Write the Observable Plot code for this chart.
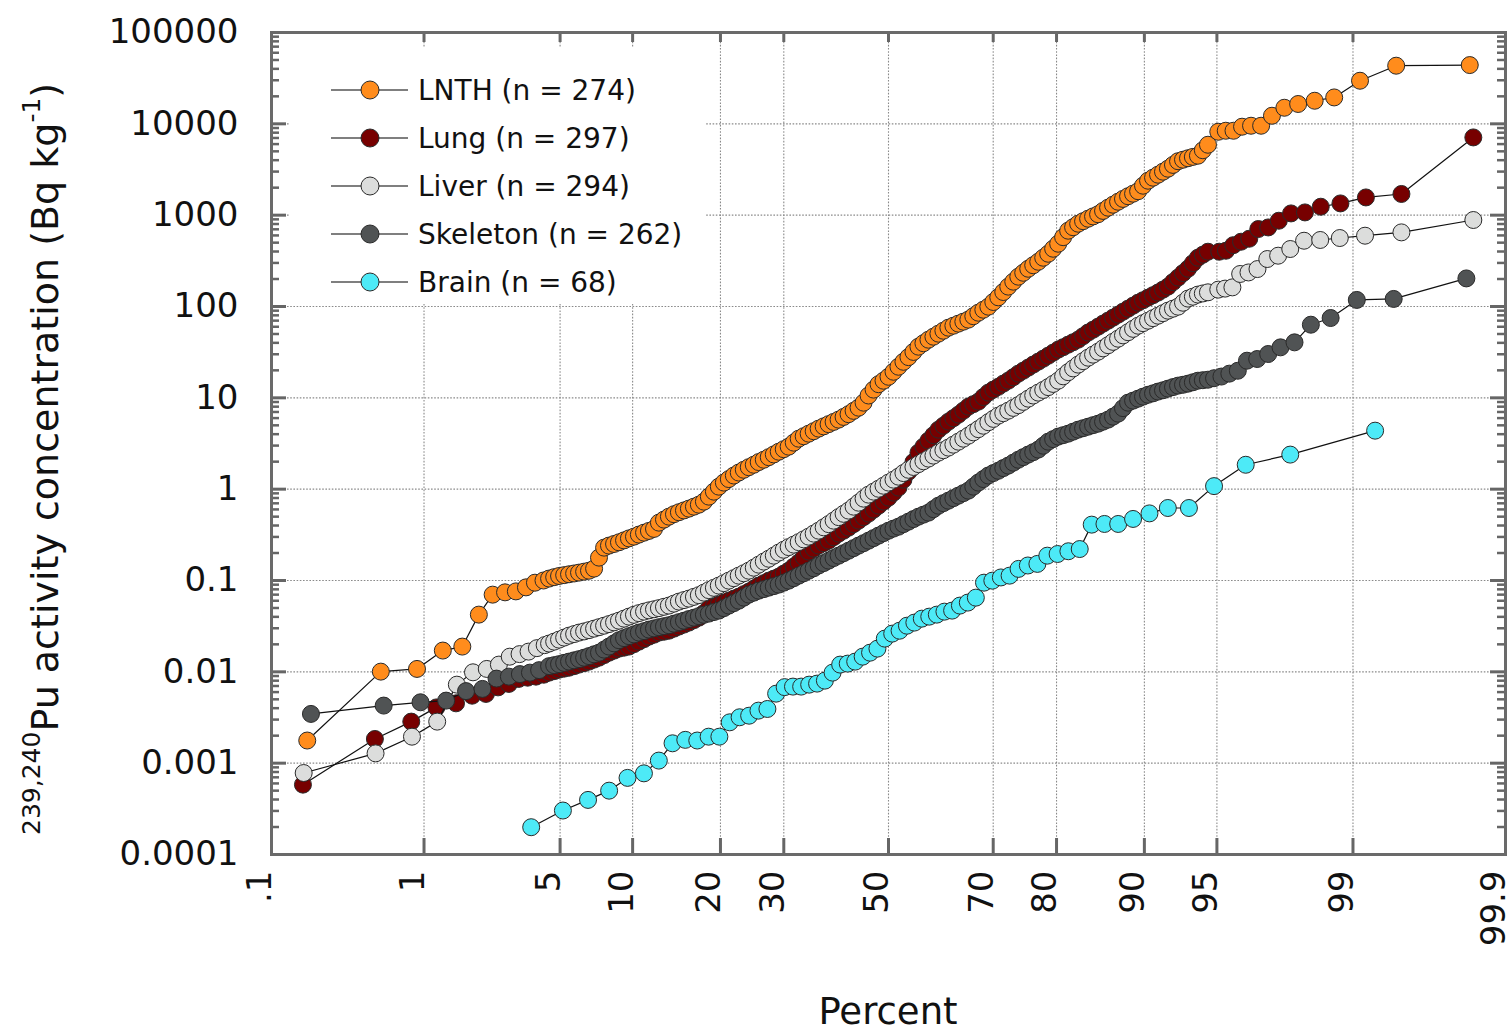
<!DOCTYPE html>
<html><head><meta charset="utf-8">
<script src="https://cdn.jsdelivr.net/npm/d3@7"></script>
<script src="https://cdn.jsdelivr.net/npm/@observablehq/plot@0.6"></script>
<style>body{margin:0;background:#fff;overflow:hidden;}</style>
</head><body><div id="chart"></div>
<script>
// ---------- data (percent, activity concentration in Bq/kg) ----------
const xTickPct = [0.1, 1, 5, 10, 20, 30, 50, 70, 80, 90, 95, 99, 99.9];
const xTickLabels = [".1", "1", "5", "10", "20", "30", "50", "70", "80", "90", "95", "99", "99.9"];
const yTickVals = [1e-4, 1e-3, 1e-2, 1e-1, 1, 10, 100, 1000, 10000, 100000];
const yTickLabels = ["0.0001", "0.001", "0.01", "0.1", "1", "10", "100", "1000", "10000", "100000"];

// percent positions read across the dense central part of the curves
const midPct = [4.457,4.947,5.480,6.057,6.681,7.353,8.076,8.851,9.680,10.56,11.51,12.51,13.57,14.69,15.87,17.11,18.41,19.77,21.19,22.66,24.20,25.78,27.43,29.12,30.85,32.64,34.46,36.32,38.21,40.13,42.07,44.04,46.02,48.01,50,51.99,53.98,55.96,57.93,59.87,61.79,63.68,65.54,67.36,69.15,70.88,72.57,74.22,75.80,77.34,78.81,80.23,81.59,82.89,84.13,85.31,86.43,87.49,88.49,89.44,90.32,91.15,91.92,92.65,93.32,93.94,94.52];
const midPctB = [4.702,5.214,5.769,6.369,7.017,7.715,8.464,9.266,10.12,11.04,12.01,13.04,14.13,15.28,16.49,17.76,19.09,20.48,21.93,23.43,24.99,26.61,28.28,29.99,31.75,33.55,35.39,37.27,39.17,41.10,43.06,45.03,47.02,49.00,51.00,52.98,54.97,56.94,58.90,60.83,62.74,64.61,66.45,68.26,70.02,71.73,73.40,75.01,76.57,78.08,79.52,80.91,82.24,83.51,84.72,85.87,86.96,87.99,88.97,89.88,90.74,91.54,92.29,92.99,93.63,94.23];

const lnthLowPct = [0.18,0.55,0.91,1.28,1.64,2.01,2.37,2.74,3.10,3.47,3.83,4.20];
const lnthLowVal = [0.00177,0.01005,0.01076,0.0171,0.0189,0.0423,0.070,0.0742,0.076,0.0841,0.0946,0.100];
const lnthMidVal = [0.105,0.112,0.117,0.122,0.128,0.178,0.241,0.262,0.289,0.318,0.349,0.430,0.500,0.559,0.612,0.676,0.828,1.065,1.29,1.52,1.74,1.98,2.24,2.57,2.92,3.57,4.05,4.60,5.15,5.77,6.62,7.80,10.6,14.1,17.0,21.9,27.9,36.3,43.3,50.4,58.6,64.9,71.8,85.5,99.5,126,165,212,259,309,378,487,676,806,914,1024,1207,1403,1612,1829,2384,2773,3226,3896,4200,4477,5902];
const lnthMidValB = [0.1088,0.1145,0.1194,0.125,0.1349,0.229,0.251,0.275,0.302,0.334,0.367,0.464,0.532,0.585,0.643,0.730,0.939,1.18,1.41,1.63,1.85,2.10,2.40,2.74,3.23,3.80,4.31,4.87,5.45,6.18,7.20,8.85,12.3,15.4,19.3,24.8,31.8,39.6,46.7,54.3,61.6,68.2,78.3,92.2,112,144,187,234,283,342,429,574,738,859,969,1113,1301,1506,1718,2102,2572,2992,3550,4047,4345,5140];
const lnthHighPct = [95.07,95.44,95.80,96.17,96.53,96.90,97.26,97.63,97.99,98.36,98.72,99.09,99.45,99.82];
const lnthHighVal = [8190,8400,8400,9300,9530,9530,12260,15000,16490,17900,19460,29640,43300,44000];

const lungLowPct = [0.168,0.505,0.842,1.178,1.515,1.852,2.189,2.525,2.862,3.199,3.535,3.872,4.209];
const lungLowVal = [0.000582,0.00184,0.00285,0.00408,0.00452,0.00548,0.00573,0.00676,0.00737,0.00836,0.00863,0.00886,0.0093];
const lungMidVal = [0.0098,0.01057,0.0111,0.0120,0.01294,0.01429,0.0162,0.01795,0.0189,0.0214,0.0243,0.0269,0.0282,0.0313,0.0346,0.0392,0.0492,0.0544,0.0601,0.0665,0.0755,0.0879,0.0996,0.110,0.128,0.157,0.207,0.241,0.273,0.326,0.379,0.452,0.540,0.659,0.807,1.04,1.55,2.51,3.40,4.48,5.48,6.54,8.00,9.08,11.4,13.2,15.4,18.4,21.4,24.9,28.9,33.7,38.2,43.3,51.8,60.1,69.9,81.4,94.6,110,125,142,165,207,259,342,398];
const lungMidValB = [0.01018,0.01084,0.01154,0.01245,0.01361,0.01524,0.01706,0.0184,0.0201,0.0228,0.0255,0.0275,0.0297,0.0329,0.0368,0.0439,0.0517,0.0573,0.0633,0.0709,0.0814,0.0935,0.1047,0.1189,0.1419,0.180,0.223,0.256,0.298,0.351,0.414,0.494,0.597,0.730,0.916,1.27,1.98,2.92,3.90,4.95,5.98,7.23,8.52,10.2,12.3,14.3,16.8,19.8,23.1,26.8,31.2,35.8,40.6,47.3,55.7,64.9,75.4,87.7,102,117,133,153,185,232,298,369];
const lungHighPct = [95.12,95.45,95.79,96.13,96.46,96.80,97.14,97.47,97.81,98.15,98.48,98.82,99.16,99.49,99.83];
const lungHighVal = [398,408,469,512,552,705,734,869,1045,1072,1237,1345,1564,1706,7100];

const liverLowPct = [0.170,0.510,0.850,1.190,1.531,1.871,2.211,2.551,2.891,3.231,3.571,3.912,4.252];
const liverLowVal = [0.00078,0.00128,0.00195,0.00285,0.00724,0.00988,0.01076,0.0120,0.01466,0.01563,0.01665,0.01817,0.0196];
const liverMidVal = [0.0204,0.0225,0.0249,0.0269,0.0286,0.0308,0.0333,0.0363,0.0402,0.0439,0.0471,0.0498,0.0531,0.0587,0.0633,0.0691,0.0784,0.0879,0.0996,0.113,0.128,0.149,0.173,0.202,0.232,0.263,0.302,0.351,0.414,0.494,0.582,0.711,0.871,1.01,1.18,1.37,1.63,1.88,2.16,2.51,2.85,3.31,3.85,4.54,5.41,6.38,7.23,8.31,9.79,11.4,13.1,15.4,19.1,23.1,27.5,32.0,37.7,44.4,52.3,61.6,69.9,79.3,90.0,99.5,122,135,143];
const liverMidValB = [0.0214,0.0237,0.0259,0.0277,0.0297,0.0320,0.0348,0.0382,0.0421,0.0456,0.0484,0.0515,0.0558,0.0610,0.0662,0.0736,0.0831,0.0935,0.106,0.120,0.138,0.161,0.187,0.217,0.247,0.282,0.326,0.382,0.452,0.537,0.643,0.787,0.939,1.09,1.27,1.50,1.75,2.02,2.33,2.67,3.07,3.57,4.19,4.95,5.88,6.79,7.76,9.03,10.6,12.2,14.2,17.2,21.0,25.2,29.7,34.8,41.0,48.3,56.9,65.7,74.5,84.5,94.6,110,128,139];
const liverHighPct = [95.07,95.41,95.75,96.09,96.43,96.77,97.11,97.45,97.79,98.13,98.47,98.81,99.15,99.49,99.83];
const liverHighVal = [153,157,162,227,236,257,331,360,426,525,535,562,596,648,885];

const skelLowPct = [0.191,0.573,0.954,1.336,1.718,2.099,2.481,2.863,3.244,3.626,4.008];
const skelLowVal = [0.00346,0.00427,0.00464,0.00484,0.00615,0.0065,0.00843,0.00886,0.00944,0.0098,0.01044];
const skelMidVal = [0.01154,0.01214,0.01294,0.01377,0.01486,0.0162,0.0189,0.0222,0.0246,0.0269,0.0290,0.0308,0.0324,0.0350,0.0378,0.0407,0.0434,0.0468,0.0531,0.0601,0.070,0.0774,0.0835,0.0901,0.0996,0.113,0.128,0.146,0.165,0.187,0.212,0.241,0.273,0.310,0.351,0.388,0.441,0.500,0.553,0.659,0.748,0.849,0.963,1.18,1.41,1.59,1.81,2.10,2.39,2.71,3.31,3.76,4.05,4.48,4.83,5.21,5.77,6.71,8.85,9.79,10.8,11.7,12.6,13.6,14.3,15.4,15.8];
const skelMidValB = [0.01184,0.01254,0.01336,0.01429,0.01556,0.0175,0.0205,0.0234,0.0257,0.0279,0.0299,0.0316,0.0337,0.0363,0.0392,0.0421,0.0451,0.0498,0.0565,0.0649,0.0736,0.0804,0.0867,0.0947,0.106,0.120,0.136,0.155,0.176,0.199,0.226,0.256,0.291,0.330,0.370,0.414,0.470,0.526,0.604,0.703,0.797,0.904,1.065,1.29,1.50,1.70,1.95,2.24,2.54,2.99,3.53,3.90,4.26,4.65,5.02,5.48,6.22,7.71,9.31,10.3,11.2,12.1,13.1,13.9,14.8,15.6];
const skelHighPct = [94.85,95.23,95.61,95.99,96.37,96.76,97.14,97.52,97.90,98.28,98.66,99.05,99.43,99.81];
const skelHighVal = [16.4,17.1,18.4,19.8,25.5,26.6,30.2,35.7,40.5,63.2,74.8,118,121,203];

const brainPct = [3.676,5.147,6.618,8.088,9.559,11.03,12.50,13.97,15.44,16.91,18.38,19.85,21.32,22.79,24.26,25.74,27.21,28.68,30.15,31.62,33.09,34.56,36.03,37.50,38.97,40.44,41.91,43.38,44.85,46.32,47.79,49.26,50.74,52.21,53.68,55.15,56.62,58.09,59.56,61.03,62.50,63.97,65.44,66.91,68.38,69.85,71.32,72.79,74.26,75.74,77.21,78.68,80.15,81.62,83.09,84.56,86.03,87.50,88.97,90.44,91.91,93.38,94.85,96.32,97.79,99.26];
const brainVal = [0.000199,0.000303,0.000396,0.0005,0.00069,0.000774,0.001067,0.00165,0.0018,0.00177,0.00195,0.00195,0.0028,0.00318,0.00331,0.00376,0.00392,0.00577,0.0068,0.00689,0.00689,0.00724,0.00743,0.00801,0.0098,0.0120,0.0123,0.01294,0.01466,0.0162,0.01795,0.0231,0.0262,0.0282,0.0320,0.0346,0.0382,0.0402,0.0423,0.0456,0.0468,0.0531,0.0573,0.0649,0.0947,0.0996,0.108,0.113,0.134,0.146,0.152,0.187,0.195,0.209,0.221,0.409,0.416,0.416,0.472,0.543,0.622,0.622,1.08,1.85,2.39,4.37];

const seriesNames = ["LNTH", "Lung", "Liver", "Skeleton", "Brain"];
const seriesN = [274, 297, 294, 262, 68];
const seriesColors = ["#FF8C1C", "#770000", "#DCDDDC", "#505354", "#4DEAF7"];

// ---------- helpers ----------
function probit(p) {
  const a=[-3.969683028665376e+01,2.209460984245205e+02,-2.759285104469687e+02,1.383577518672690e+02,-3.066479806614716e+01,2.506628277459239e+00];
  const b=[-5.447609879822406e+01,1.615858368580409e+02,-1.556989798598866e+02,6.680131188771972e+01,-1.328068155288572e+01];
  const c=[-7.784894002430293e-03,-3.223964580411365e-01,-2.400758277161838e+00,-2.549732539343734e+00,4.374664141464968e+00,2.938163982698783e+00];
  const d=[7.784695709041462e-03,3.224671290700398e-01,2.445134137142996e+00,3.754408661907416e+00];
  const pl=0.02425, ph=1-pl; let q, r;
  if (p < pl) { q=Math.sqrt(-2*Math.log(p)); return (((((c[0]*q+c[1])*q+c[2])*q+c[3])*q+c[4])*q+c[5])/((((d[0]*q+d[1])*q+d[2])*q+d[3])*q+1); }
  if (p <= ph) { q=p-0.5; r=q*q; return (((((a[0]*r+a[1])*r+a[2])*r+a[3])*r+a[4])*r+a[5])*q/(((((b[0]*r+b[1])*r+b[2])*r+b[3])*r+b[4])*r+1); }
  q=Math.sqrt(-2*Math.log(1-p)); return -(((((c[0]*q+c[1])*q+c[2])*q+c[3])*q+c[4])*q+c[5])/((((d[0]*q+d[1])*q+d[2])*q+d[3])*q+1);
}
const zOf = p => probit(p / 100);

const seriesPct = [
  lnthLowPct.concat(midPct, midPctB, lnthHighPct),
  lungLowPct.concat(midPct, midPctB, lungHighPct),
  liverLowPct.concat(midPct, midPctB, liverHighPct),
  skelLowPct.concat(midPct, midPctB, skelHighPct),
  brainPct
];
const seriesVal = [
  lnthLowVal.concat(lnthMidVal, lnthMidValB, lnthHighVal),
  lungLowVal.concat(lungMidVal, lungMidValB, lungHighVal),
  liverLowVal.concat(liverMidVal, liverMidValB, liverHighVal),
  skelLowVal.concat(skelMidVal, skelMidValB, skelHighVal),
  brainVal
];
const seriesData = seriesNames.map((name, k) =>
  seriesPct[k].map((p, i) => ({series: name, p, v: seriesVal[k][i]})).sort((a, b) => a.p - b.p));

const zTicks = xTickPct.map(zOf);
const minorY = [];
for (let e = -4; e <= 4; e++) for (let m = 2; m <= 9; m++) minorY.push(m * Math.pow(10, e));

const W = 1512, H = 1033, mL = 271, mR = 7, mT = 32, mB = 179;
const iW = W - mL - mR, iH = H - mT - mB;
const grid = {stroke: "#8a8a8a", strokeWidth: 1.1, strokeDasharray: "1.6,1.6"};
const tickStyle = {stroke: "#666", strokeWidth: 3};

const marks = [
  Plot.ruleY(yTickVals.slice(1, -1), {y: d => d, ...grid}),
  Plot.ruleX(zTicks.slice(1, -1), {x: d => d, ...grid}),
];
seriesData.forEach((data, k) => {
  marks.push(Plot.line(data, {x: d => zOf(d.p), y: "v", stroke: "#111", strokeWidth: 1.2}));
  marks.push(Plot.dot(data, {x: d => zOf(d.p), y: "v", r: 8.5, fill: seriesColors[k], stroke: "#2a2a2a", strokeWidth: 1}));
});
marks.push(
  Plot.ruleY(minorY, {y: d => d, insetRight: iW - 8, ...tickStyle, strokeWidth: 2.5}),
  Plot.ruleY(minorY, {y: d => d, insetLeft: iW - 8, ...tickStyle, strokeWidth: 2.5}),
  Plot.ruleY(yTickVals, {y: d => d, insetRight: iW - 15, ...tickStyle}),
  Plot.ruleY(yTickVals, {y: d => d, insetLeft: iW - 15, ...tickStyle}),
  Plot.ruleX(zTicks, {x: d => d, insetTop: iH - 16, ...tickStyle}),
  Plot.ruleX(zTicks, {x: d => d, insetBottom: iH - 10, ...tickStyle}),
  Plot.frame({stroke: "#6a6a6a", strokeWidth: 3}),
  Plot.axisY({ticks: yTickVals, tickFormat: d => yTickLabels[yTickVals.indexOf(d)], tickSize: 0, tickPadding: 33, fontSize: 34, label: null}),
  Plot.axisX({ticks: zTicks, tickFormat: z => xTickLabels[zTicks.indexOf(z)], tickRotate: -90, tickSize: 0, tickPadding: 16, fontSize: 34, dx: -11, label: null})
);

const plot = Plot.plot({
  width: W, height: H,
  marginLeft: mL, marginRight: mR, marginTop: mT, marginBottom: mB,
  style: {fontFamily: "'DejaVu Sans', sans-serif", color: "#111", background: "#fff"},
  x: {type: "linear", domain: [zOf(0.1), zOf(99.9)], axis: null},
  y: {type: "log", domain: [1e-4, 1e5], axis: null},
  marks
});
document.getElementById("chart").appendChild(plot);

// ---------- titles and legend ----------
const svg = d3.select(plot);
const yt = svg.append("text")
  .attr("transform", "translate(58,835) rotate(-90)")
  .attr("text-anchor", "start")
  .attr("fill", "#111").attr("font-family", "'DejaVu Sans', sans-serif");
yt.append("tspan").attr("font-size", 25).attr("dy", -18).text("239,240");
yt.append("tspan").attr("font-size", 38).attr("dy", 18).text("Pu activity concentration (Bq kg");
yt.append("tspan").attr("font-size", 25).attr("dy", -18).text("-1");
yt.append("tspan").attr("font-size", 38).attr("dy", 18).text(")");

svg.append("text").attr("x", 888).attr("y", 1024).attr("text-anchor", "middle")
  .attr("font-size", 37).attr("fill", "#111").attr("font-family", "'DejaVu Sans', sans-serif").text("Percent");

const lg = svg.append("g").attr("font-family", "'DejaVu Sans', sans-serif");
lg.append("rect").attr("x", 290).attr("y", 48).attr("width", 415).attr("height", 256).attr("fill", "#fff");
seriesNames.forEach((name, k) => {
  const y = 90 + k * 48;
  lg.append("line").attr("x1", 331).attr("x2", 408).attr("y1", y).attr("y2", y).attr("stroke", "#555").attr("stroke-width", 1.3);
  lg.append("circle").attr("cx", 370).attr("cy", y).attr("r", 9).attr("fill", seriesColors[k]).attr("stroke", "#2a2a2a").attr("stroke-width", 1);
  lg.append("text").attr("x", 418).attr("y", y).attr("dy", "0.35em").attr("text-anchor", "start")
    .attr("font-size", 28).attr("fill", "#111").text(`${name} (n = ${seriesN[k]})`);
});
</script>
</body></html>
